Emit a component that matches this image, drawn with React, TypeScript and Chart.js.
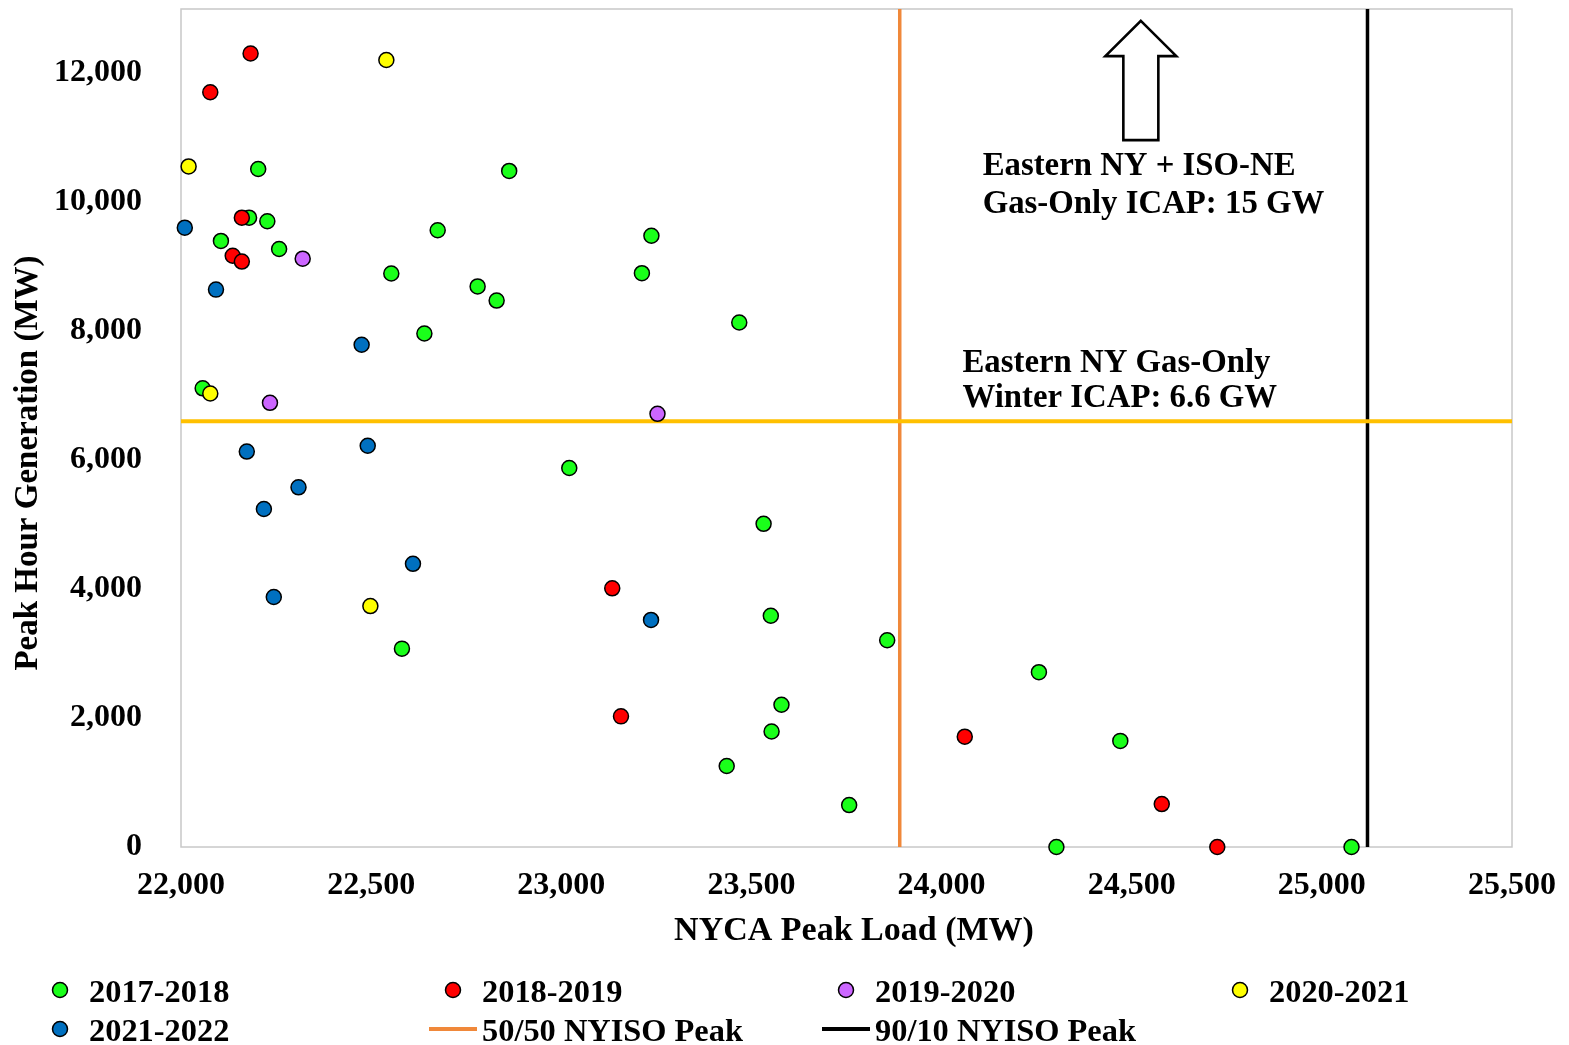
import React, { useEffect, useRef } from "react";
import { Chart, registerables } from "chart.js";

Chart.register(...registerables);

// ---------- data ----------
const seriesLabels = ["2017-2018", "2018-2019", "2019-2020", "2020-2021", "2021-2022"];
const seriesColors = ["#1AFF1A", "#FF0000", "#CC66FF", "#FFFF00", "#0070C0"];

const load2017 = [22203, 22863, 22179, 22227, 22675, 22105, 22258, 22553, 22780, 22830, 22640, 22057, 23237, 23212, 23468, 23021, 23532, 23551, 23857, 23579, 23553, 23435, 23757, 24256, 24470, 24302, 25078, 22581];
const gen2017 = [10510, 10480, 9755, 9700, 9560, 9395, 9270, 8890, 8690, 8470, 7960, 7110, 9475, 8895, 8130, 5875, 5010, 3585, 3205, 2205, 1790, 1255, 650, 2710, 1645, 0, 0, 3075];

const load2018 = [22183, 22077, 22160, 22136, 22160, 23134, 23157, 24061, 24579, 24725];
const gen2018 = [12300, 11700, 9755, 9165, 9075, 4010, 2025, 1710, 665, 0];

const load2019 = [22320, 22234, 23253];
const gen2019 = [9120, 6885, 6715];

const load2020 = [22540, 22020, 22077, 22498];
const gen2020 = [12200, 10550, 7030, 3735];

const load2021 = [22010, 22092, 22475, 22173, 22491, 22309, 22218, 22610, 22244, 23236];
const gen2021 = [9600, 8640, 7785, 6130, 6220, 5575, 5240, 4390, 3875, 3520];

const seriesLoads = [load2017, load2018, load2019, load2020, load2021];
const seriesGens = [gen2017, gen2018, gen2019, gen2020, gen2021];

const gasOnlyWinterIcap = 6600; // MW
const peak5050 = 23890; // MW
const peak9010 = 25120; // MW

const xTickValues = [22000, 22500, 23000, 23500, 24000, 24500, 25000, 25500];
const yTickValues = [0, 2000, 4000, 6000, 8000, 10000, 12000];
const xMin = 22000;
const xMax = 25500;
const yMin = 0;
const yMax = 12990;

const xTitle = "NYCA Peak Load (MW)";
const yTitle = "Peak Hour Generation (MW)";
const noteTop = ["Eastern NY + ISO-NE", "Gas-Only ICAP: 15 GW"];
const noteMid = ["Eastern NY Gas-Only", "Winter ICAP: 6.6 GW"];

// ---------- styling ----------
const FONT = '"Liberation Serif", "Times New Roman", serif';
const W = 1569;
const H = 1045;

const fmt = (v: number) => v.toLocaleString("en-US");
const pts = (xs: number[], ys: number[]) => xs.map((v, i) => ({ x: v, y: ys[i] }));

const overlay = {
  id: "overlay",
  beforeDatasetsDraw(chart: any) {
    const { ctx, chartArea: a } = chart;
    ctx.save();
    ctx.strokeStyle = "#C8C8C8";
    ctx.lineWidth = 1.5;
    ctx.strokeRect(a.left, a.top, a.right - a.left, a.bottom - a.top);
    ctx.restore();
  },
  afterDatasetsDraw(chart: any) {
    const { ctx } = chart;
    const xs = chart.scales.x;
    const ys = chart.scales.y;
    // hollow up arrow
    const cx = xs.getPixelForValue(24524);
    const tip = ys.getPixelForValue(12805);
    const headBase = ys.getPixelForValue(12260);
    const bottom = ys.getPixelForValue(10958);
    const shaftHalf = 17.5;
    const headHalf = 35.5;
    ctx.save();
    ctx.beginPath();
    ctx.moveTo(cx, tip);
    ctx.lineTo(cx + headHalf, headBase);
    ctx.lineTo(cx + shaftHalf, headBase);
    ctx.lineTo(cx + shaftHalf, bottom);
    ctx.lineTo(cx - shaftHalf, bottom);
    ctx.lineTo(cx - shaftHalf, headBase);
    ctx.lineTo(cx - headHalf, headBase);
    ctx.closePath();
    ctx.fillStyle = "#FFFFFF";
    ctx.fill();
    ctx.strokeStyle = "#000000";
    ctx.lineWidth = 2.6;
    ctx.lineJoin = "miter";
    ctx.stroke();

    // annotation texts
    ctx.fillStyle = "#000000";
    ctx.font = `bold 32.8px ${FONT}`;
    ctx.textAlign = "left";
    ctx.textBaseline = "alphabetic";
    const tx1 = xs.getPixelForValue(24108);
    ctx.fillText(noteTop[0], tx1, 175);
    ctx.fillText(noteTop[1], tx1, 213);
    const tx2 = xs.getPixelForValue(24055);
    ctx.fillText(noteMid[0], tx2, 372);
    ctx.fillText(noteMid[1], tx2, 407);
    ctx.restore();
  },
  afterDraw(chart: any) {
    const { ctx } = chart;
    ctx.save();
    ctx.fillStyle = "#000000";
    // axis titles
    ctx.textAlign = "center";
    ctx.textBaseline = "alphabetic";
    ctx.font = `bold 34px ${FONT}`;
    ctx.fillText(xTitle, 854, 940);
    ctx.font = `bold 33px ${FONT}`;
    ctx.save();
    ctx.translate(37, 463);
    ctx.rotate(-Math.PI / 2);
    ctx.fillText(yTitle, 0, 0);
    ctx.restore();

    // legend
    const cols = [60, 453, 846, 1240];
    const rows = [990, 1029];
    const items = chart.data.datasets.filter((d: any) => d.inLegend);
    ctx.font = `bold 32.4px ${FONT}`;
    ctx.textAlign = "left";
    items.forEach((d: any, i: number) => {
      const cx = cols[i % 4];
      const cy = rows[Math.floor(i / 4)];
      if (d.showLine) {
        ctx.beginPath();
        ctx.moveTo(cx - 24, cy);
        ctx.lineTo(cx + 24, cy);
        ctx.strokeStyle = d.borderColor;
        ctx.lineWidth = 4;
        ctx.stroke();
      } else {
        ctx.beginPath();
        ctx.arc(cx, cy, 7.5, 0, Math.PI * 2);
        ctx.fillStyle = d.backgroundColor;
        ctx.fill();
        ctx.strokeStyle = "#000000";
        ctx.lineWidth = 1.5;
        ctx.stroke();
      }
      ctx.fillStyle = "#000000";
      ctx.fillText(d.label, cx + 29, cy + 11.5);
    });
    ctx.restore();
  },
};

export default function App() {
  const ref = useRef<HTMLCanvasElement | null>(null);

  useEffect(() => {
    if (!ref.current) return;
    const scatterSets = seriesLabels.map((label, i) => ({
      label,
      data: pts(seriesLoads[i], seriesGens[i]),
      backgroundColor: seriesColors[i],
      borderColor: "#000000",
      borderWidth: 1.5,
      pointRadius: 7.5,
      pointHoverRadius: 7.5,
      showLine: false,
      order: 5 - i,
      clip: false,
      inLegend: true,
    }));
    const lineSets = [
      {
        label: "50/50 NYISO Peak",
        data: [
          { x: peak5050, y: yMin },
          { x: peak5050, y: yMax },
        ],
        borderColor: "#F0883A",
        backgroundColor: "#F0883A",
        borderWidth: 3.5,
        pointRadius: 0,
        showLine: true,
        order: 11,
        clip: false,
        inLegend: true,
      },
      {
        label: "90/10 NYISO Peak",
        data: [
          { x: peak9010, y: yMin },
          { x: peak9010, y: yMax },
        ],
        borderColor: "#000000",
        backgroundColor: "#000000",
        borderWidth: 3.5,
        pointRadius: 0,
        showLine: true,
        order: 11,
        clip: false,
        inLegend: true,
      },
      {
        label: "Eastern NY Gas-Only Winter ICAP",
        data: [
          { x: xMin, y: gasOnlyWinterIcap },
          { x: xMax, y: gasOnlyWinterIcap },
        ],
        borderColor: "#FFC000",
        backgroundColor: "#FFC000",
        borderWidth: 4,
        pointRadius: 0,
        showLine: true,
        order: 10,
        clip: false,
        inLegend: false,
      },
    ];

    const chart = new Chart(ref.current, {
      type: "scatter",
      data: { datasets: [...scatterSets, ...lineSets] as any },
      options: {
        responsive: false,
        animation: false,
        events: [],
        layout: { padding: { left: 0, right: 57, top: 7, bottom: 0 } },
        plugins: {
          legend: { display: false },
          tooltip: { enabled: false },
          title: { display: false },
        },
        scales: {
          x: {
            type: "linear",
            min: xMin,
            max: xMax,
            grid: { display: false, drawTicks: false },
            border: { display: false },
            ticks: {
              padding: 20,
              color: "#000000",
              font: { family: FONT, size: 32, weight: "bold" },
              callback: (v: any) => fmt(Number(v)),
              maxRotation: 0,
              autoSkip: false,
            },
            afterBuildTicks: (s: any) => {
              s.ticks = xTickValues.map((v) => ({ value: v }));
            },
            afterFit: (s: any) => {
              s.height = H - 847;
              s.paddingLeft = 0;
              s.paddingRight = 0;
              s.paddingTop = 0;
              s.paddingBottom = 0;
            },
          },
          y: {
            type: "linear",
            min: yMin,
            max: yMax,
            grid: { display: false, drawTicks: false },
            border: { display: false },
            ticks: {
              padding: 39,
              color: "#000000",
              font: { family: FONT, size: 32, weight: "bold" },
              callback: (v: any) => fmt(Number(v)),
              autoSkip: false,
            },
            afterBuildTicks: (s: any) => {
              s.ticks = yTickValues.map((v) => ({ value: v }));
            },
            afterFit: (s: any) => {
              s.width = 181;
              s.paddingLeft = 0;
              s.paddingRight = 0;
              s.paddingTop = 0;
              s.paddingBottom = 0;
            },
          },
        },
      },
      plugins: [overlay],
    });
    return () => chart.destroy();
  }, []);

  return (
    <div style={{ position: "absolute", left: 0, top: 0, width: W, height: H, background: "#FFFFFF" }}>
      <canvas ref={ref} width={W} height={H} style={{ display: "block", width: W, height: H }} />
    </div>
  );
}
